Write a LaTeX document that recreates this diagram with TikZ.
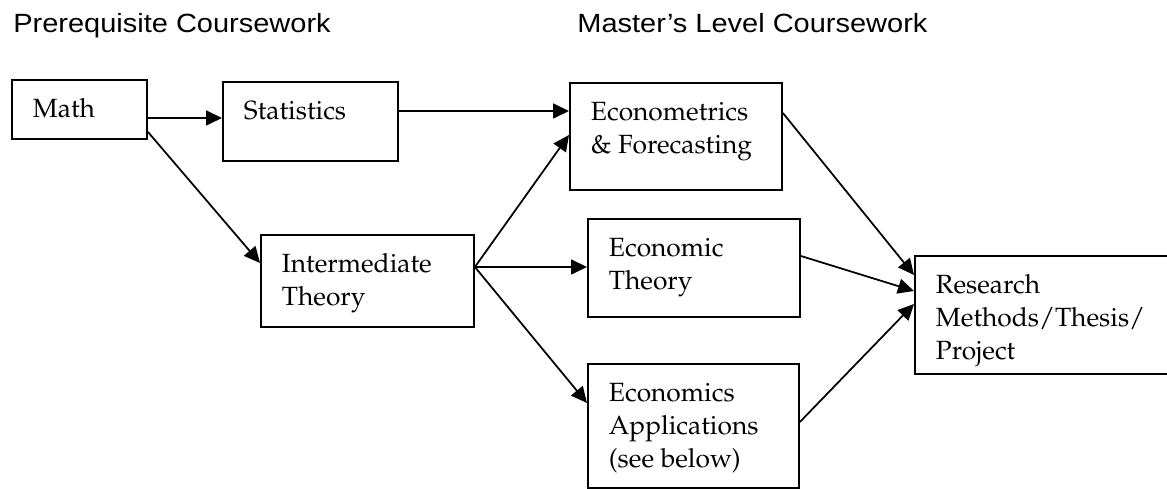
\documentclass[tikz,border=0pt]{standalone}
\usepackage[T1]{fontenc}
\usepackage{fontspec}
\usetikzlibrary{arrows.meta}
\newfontfamily\headfont[FakeStretch=1.1]{Liberation Sans}
\newcommand\crsfont{\fontencoding{T1}\fontfamily{ppl}\fontsize{15}{18.7}\selectfont}
% box text sits at the top left, box size fixed
\newcommand\crs[3]{\parbox[c][#2][t]{#1}{\crsfont\raggedright\leftskip=0.42cm\rule{0pt}{0.75cm}#3}}
\begin{document}
\begin{tikzpicture}[x=0.02cm, y=0.02cm]
    \tikzset{course/.style={draw, line width=1.1pt, inner sep=0pt, anchor=north west},
             link/.style={line width=1pt, -{Triangle[length=0.32cm,width=0.3cm]}},
             head/.style={inner sep=0pt, anchor=base west, font=\headfont\fontsize{15}{18}\selectfont}}
    \useasboundingbox (0,0) rectangle (1167,-489);
    \clip (0,0) rectangle (1167,-489);
    \node [head] (prereq) at (13,-32.5) {Prerequisite Coursework};
    \node [head] (master) at (577,-33) {Master’s Level Coursework};
    \node [course] (math) at (11,-79) {\crs{2.70cm}{1.18cm}{Math}};
    \node [course] (stats) at (222,-81) {\crs{3.50cm}{1.58cm}{Statistics}};
    \node [course] (inter) at (260,-234) {\crs{4.26cm}{1.84cm}{Intermediate\\Theory}};
    \node [course] (econo) at (569,-82) {\crs{4.24cm}{2.14cm}{Econometrics\\\& Forecasting}};
    \node [course] (theory) at (587,-218) {\crs{4.24cm}{1.96cm}{Economic\\Theory}};
    \node [course] (apps) at (587,-363) {\crs{4.22cm}{2.48cm}{Economics\\Applications\\(see below)}};
    \node [course] (research) at (914,-255) {\crs{5.20cm}{2.36cm}{Research\\Methods/Thesis/\\Project}};
    % prerequisites
    \draw [link] ([yshift=-0.78cm]math.north east) -- ([yshift=-0.74cm]stats.north west);
    \draw [link] ([yshift=0.16cm]math.south east) -- ([yshift=-0.58cm]inter.north west);
    \draw [link] ([yshift=-0.60cm]stats.north east) -- ([yshift=-0.58cm]econo.north west);
    \draw [link] ([yshift=-0.66cm]inter.north east) -- ([yshift=-1.06cm]econo.north west);
    \draw [link] ([yshift=-0.66cm]inter.north east) -- ([yshift=-0.98cm]theory.north west);
    \draw [link] ([yshift=-0.66cm]inter.north east) -- ([yshift=-0.80cm]apps.north west);
    % into research
    \draw [link] ([yshift=-0.62cm]econo.north east) -- ([yshift=-0.40cm]research.north west);
    \draw [link] ([yshift=-0.76cm]theory.north east) -- ([yshift=-0.72cm]research.north west);
    \draw [link] ([yshift=-1.18cm]apps.north east) -- ([yshift=-0.98cm]research.north west);
\end{tikzpicture}
\end{document}
